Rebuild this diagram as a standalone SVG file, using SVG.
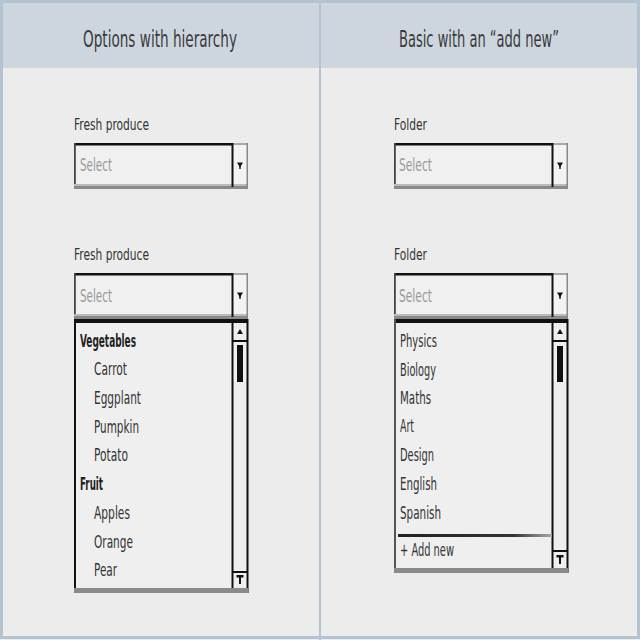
<svg xmlns="http://www.w3.org/2000/svg" xmlns:xlink="http://www.w3.org/1999/xlink" width="640" height="640" viewBox="0 0 640 640">
<style>
text{font-family:"DejaVu Sans Condensed","Liberation Sans",Arial,sans-serif;fill:#333}
.hdr{font-size:23px;fill:#3a3a3a}
.lbl{font-size:16px}
.sel{font-size:17px;fill:#9a9a9a}
.item{font-size:17px}
.bold{font-weight:bold;fill:#222}
.blk{fill:#111}
</style>
<defs>
<linearGradient id="sepGrad" x1="0" x2="1" y1="0" y2="0">
<stop offset="0" stop-color="#222"/>
<stop offset="0.75" stop-color="#333"/>
<stop offset="1" stop-color="#aaa"/>
</linearGradient>
<g id="selectBox">
<rect x="0" y="0" width="174" height="46" fill="#f0f0f0"/>
<rect x="159" y="0" width="15" height="44" fill="#f3f3f3"/>
<rect x="0" y="0" width="159" height="2.5" class="blk"/>
<rect x="159" y="0" width="15" height="2" fill="#aaa"/>
<rect x="0" y="0" width="1.8" height="46" fill="#444"/>
<rect x="0" y="41" width="174" height="2" fill="#bbb"/>
<rect x="0" y="43" width="174" height="3" fill="#8a8a8a"/>
<rect x="157.5" y="0" width="2" height="44" class="blk"/>
<rect x="172.5" y="0" width="1.5" height="46" fill="#888"/>
<polygon points="163,19.5 169,19.5 166,24.5" class="blk"/>
<rect x="165.3" y="23" width="1.4" height="3" class="blk"/>
</g>
</defs>
<rect x="0" y="0" width="640" height="640" fill="#ececec"/>
<rect x="0" y="0" width="640" height="68" fill="#cdd6df"/>
<rect x="1.5" y="1.5" width="637" height="636" fill="none" stroke="#b4c3d2" stroke-width="3"/>
<line x1="320" y1="0" x2="320" y2="640" stroke="#b4c3d2" stroke-width="2"/>

<g id="header-left"><text class="hdr" x="160" y="47" text-anchor="middle" textLength="154" lengthAdjust="spacingAndGlyphs">Options with hierarchy</text></g>
<g id="header-right"><text class="hdr" x="479" y="47" text-anchor="middle" textLength="160" lengthAdjust="spacingAndGlyphs">Basic with an “add new”</text></g>

<g id="left-closed">
<text class="lbl" x="74" y="130" textLength="75" lengthAdjust="spacingAndGlyphs">Fresh produce</text>
<use xlink:href="#selectBox" x="74" y="143"/>
<text class="sel" x="80" y="171" textLength="32" lengthAdjust="spacingAndGlyphs">Select</text>
</g>

<g id="left-open">
<text class="lbl" x="74" y="260" textLength="75" lengthAdjust="spacingAndGlyphs">Fresh produce</text>
<use xlink:href="#selectBox" x="74" y="273"/>
<text class="sel" x="80" y="302" textLength="32" lengthAdjust="spacingAndGlyphs">Select</text>
<g id="left-list">
<rect x="74" y="319" width="174" height="274" fill="#efefef"/>
<rect x="74" y="319" width="174" height="4" class="blk"/>
<rect x="74" y="319" width="2" height="274" class="blk"/>
<rect x="246.5" y="319" width="2" height="274" class="blk"/>
<rect x="231.5" y="319" width="2" height="272" class="blk"/>
<rect x="232" y="340" width="16" height="2" class="blk"/>
<polygon points="237,334 243,334 240,329" class="blk"/>
<rect x="237" y="345" width="6" height="37" class="blk"/>
<rect x="232" y="571" width="16" height="2" class="blk"/>
<rect x="236.5" y="575" width="7" height="2.5" class="blk"/>
<rect x="239" y="575" width="2" height="9" class="blk"/>
<rect x="74" y="588" width="174" height="5" fill="#8a8a8a"/>
<text class="item bold" x="80" y="347" textLength="56" lengthAdjust="spacingAndGlyphs">Vegetables</text>
<text class="item" x="94" y="375" textLength="33" lengthAdjust="spacingAndGlyphs">Carrot</text>
<text class="item" x="94" y="404" textLength="47" lengthAdjust="spacingAndGlyphs">Eggplant</text>
<text class="item" x="94" y="433" textLength="45" lengthAdjust="spacingAndGlyphs">Pumpkin</text>
<text class="item" x="94" y="461" textLength="34" lengthAdjust="spacingAndGlyphs">Potato</text>
<text class="item bold" x="80" y="490" textLength="23" lengthAdjust="spacingAndGlyphs">Fruit</text>
<text class="item" x="94" y="519" textLength="36" lengthAdjust="spacingAndGlyphs">Apples</text>
<text class="item" x="94" y="548" textLength="39" lengthAdjust="spacingAndGlyphs">Orange</text>
<text class="item" x="94" y="576" textLength="23" lengthAdjust="spacingAndGlyphs">Pear</text>
</g>
</g>

<g id="right-closed">
<text class="lbl" x="394" y="130" textLength="33" lengthAdjust="spacingAndGlyphs">Folder</text>
<use xlink:href="#selectBox" x="394" y="143"/>
<text class="sel" x="399" y="171" textLength="33" lengthAdjust="spacingAndGlyphs">Select</text>
</g>

<g id="right-open">
<text class="lbl" x="394" y="260" textLength="33" lengthAdjust="spacingAndGlyphs">Folder</text>
<use xlink:href="#selectBox" x="394" y="273"/>
<text class="sel" x="399" y="302" textLength="33" lengthAdjust="spacingAndGlyphs">Select</text>
<g id="right-list">
<rect x="394" y="319" width="174" height="254" fill="#efefef"/>
<rect x="394" y="319" width="174" height="4" class="blk"/>
<rect x="394" y="319" width="2" height="254" fill="#555"/>
<rect x="566.5" y="319" width="2" height="254" class="blk"/>
<rect x="551.5" y="319" width="2" height="252" class="blk"/>
<rect x="552" y="340" width="16" height="2" class="blk"/>
<polygon points="557,334 563,334 560,329" class="blk"/>
<rect x="557" y="346" width="6" height="36" class="blk"/>
<rect x="552" y="550" width="16" height="2" class="blk"/>
<rect x="556.5" y="555" width="7" height="2.5" class="blk"/>
<rect x="559" y="555" width="2" height="9" class="blk"/>
<rect x="394" y="568" width="174" height="5" fill="#8a8a8a"/>
<rect x="398" y="534" width="154" height="3" fill="url(#sepGrad)"/>
<text class="item" x="400" y="347" textLength="37" lengthAdjust="spacingAndGlyphs">Physics</text>
<text class="item" x="400" y="376" textLength="36" lengthAdjust="spacingAndGlyphs">Biology</text>
<text class="item" x="400" y="404" textLength="31" lengthAdjust="spacingAndGlyphs">Maths</text>
<text class="item" x="400" y="432" textLength="14" lengthAdjust="spacingAndGlyphs">Art</text>
<text class="item" x="400" y="461" textLength="34" lengthAdjust="spacingAndGlyphs">Design</text>
<text class="item" x="400" y="490" textLength="37" lengthAdjust="spacingAndGlyphs">English</text>
<text class="item" x="400" y="519" textLength="41" lengthAdjust="spacingAndGlyphs">Spanish</text>
<text class="item" x="400" y="556" textLength="54" lengthAdjust="spacingAndGlyphs">+ Add new</text>
</g>
</g>
</svg>
